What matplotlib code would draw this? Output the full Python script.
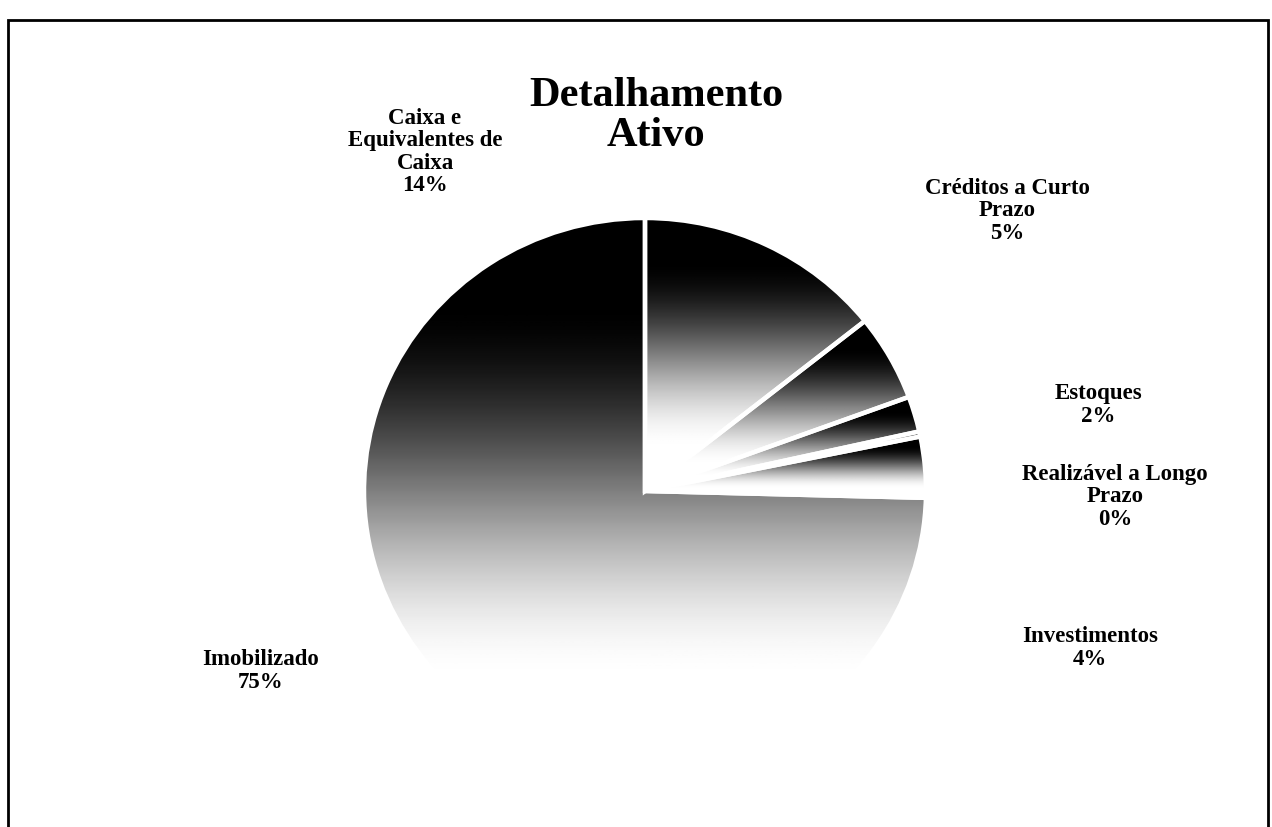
import numpy as np
import matplotlib.pyplot as plt
from matplotlib.patches import Rectangle

# --- data ---
labels = ["Caixa e\nEquivalentes de\nCaixa", "Créditos a Curto\nPrazo", "Estoques",
          "Realizável a Longo\nPrazo", "Investimentos", "Imobilizado"]
values = [14.3, 5.1, 2.1, 0.3, 3.6, 74.6]
title = "Detalhamento\nAtivo"

# label anchors in pixels (x, y from top)
label_xy = [(425, 152), (1007, 211), (1098, 405), (1115, 497), (1090, 648), (261, 671)]

W, H = 1272, 827
fig = plt.figure(figsize=(W / 100, H / 100), dpi=100)
fig.patch.set_facecolor("white")

# pie centre and radii in pixels (scan is slightly squashed)
cx, cy, rx, ry = 645, 491, 281, 273
ax = fig.add_axes([(cx - rx) / W, 1 - (cy + ry) / H, 2 * rx / W, 2 * ry / H])
wedges, _ = ax.pie(values, startangle=90, counterclock=False, colors=["none"] * len(values),
                   wedgeprops=dict(edgecolor="white", linewidth=3.2))

# vertical black -> white gradient per slice, clipped to the wedge
t = np.clip((np.linspace(0, 1, 256) - 0.15) / 0.7, 0, 1)
grad = (t * t * (3 - 2 * t))[:, None]
for w in wedges:
    a = np.radians(np.linspace(w.theta1, w.theta2, 200))
    xs = np.concatenate([[0], np.cos(a)])
    ys = np.concatenate([[0], np.sin(a)])
    im = ax.imshow(grad, cmap="gray", vmin=0, vmax=1, aspect="auto",
                   extent=[xs.min(), xs.max(), ys.min(), ys.max()], origin="upper", zorder=0)
    im.set_clip_path(w)
ax.set_xlim(-1, 1)
ax.set_ylim(-1, 1)
ax.set_aspect("auto")
ax.axis("off")

serif = ["Liberation Serif", "DejaVu Serif"]
fig.text(656 / W, 1 - 116 / H, title, ha="center", va="center", family=serif,
         fontweight="bold", fontsize=30.5, linespacing=1.05)

for lab, v, (x, y) in zip(labels, values, label_xy):
    fig.text(x / W, 1 - y / H, f"{lab}\n{round(v):.0f}%", ha="center", va="center",
             family=serif, fontweight="bold", fontsize=16.5, linespacing=1.1)

# outer frame of the chart area
fig.add_artist(Rectangle((8 / W, -0.01), (1268 - 8) / W, 1.01 - 20 / H,
                         transform=fig.transFigure, fill=False, edgecolor="black", linewidth=2))

fig.savefig("out.png", dpi=100)
